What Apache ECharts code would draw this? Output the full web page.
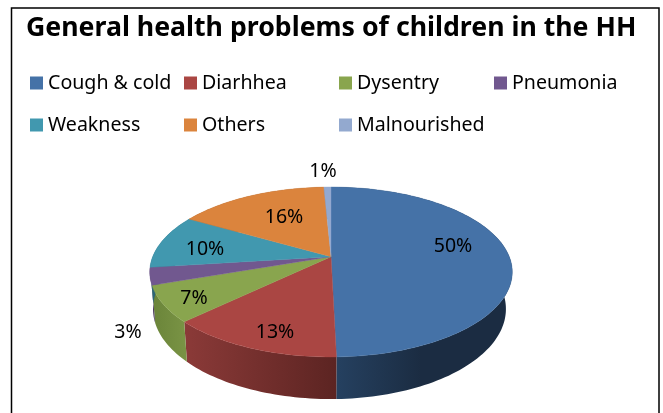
<!DOCTYPE html>
<html><head><meta charset="utf-8">
<style>html,body{margin:0;padding:0;background:#fff}#c{width:663px;height:413px}</style>
<script src="https://cdn.jsdelivr.net/npm/echarts@6/dist/echarts.min.js"></script>
</head><body><div id="c"></div>
<script>
const titleText = 'General health problems of children in the HH';
const categories = ['Cough & cold','Diarhhea','Dysentry','Pneumonia','Weakness','Others','Malnourished'];
const values = [49.6,13.2,6.9,3.3,10.3,15.95,0.75];
const colors = ['#4572A7','#AA4643','#89A54E','#71588F','#4198AF','#DB843D','#93A9CF'];
const wallStops = [['#264262','#1b2c42'],['#8b3a38','#5c2422'],['#6a8439','#7a9445'],['#4c3b60','#4c3b60'],['#2c6676','#2c6676'],['#94592a','#94592a'],['#63728c','#63728c']];
const legendPos = [[30,73],[184,73],[339,73],[494,73],[30,115],[184,115],[339,115]];
const labelPos = [[453,246],[275,332],[194,298],[128,332],[205,249],[284,217],[323,171]];
const FONT = 'Noto Sans';

const cum = []; values.reduce((s,v,i)=>(cum[i]=s,s+v),0);
const total = values.reduce((a,b)=>a+b,0);
const P = {cx:331,y0:256.7,a:178.3,b:82.2,k:0.18,yc:272};
function rim(th){const u=Math.sin(th),v=Math.cos(th),d=1+P.k*v;return [P.cx+P.a*u/d,P.y0-P.b*v/d];}
function floor(p){const sx=p[0]<P.cx?0.982:0.965;return [P.cx+(p[0]-P.cx)*sx,p[1]+37+(p[1]-P.yc)*0.06];}
function arc(start,val){const a0=start/total*2*Math.PI,a1=(start+val)/total*2*Math.PI,n=Math.max(4,Math.ceil((a1-a0)*40)),r=[];
  for(let i=0;i<=n;i++)r.push(rim(a0+(a1-a0)*i/n));return r;}
function renderWall(params,api){
  const i=params.seriesIndex, pts=arc(api.value(1),api.value(0));
  const poly=pts.concat(pts.map(floor).reverse());
  const xs=poly.map(p=>p[0]);
  return {type:'polygon',z2:1,shape:{points:poly},style:{fill:{type:'linear',global:true,x:Math.min(...xs),y:0,x2:i===0?Math.min(...xs)+90:Math.max(...xs),y2:0,colorStops:[{offset:0,color:wallStops[i][0]},{offset:1,color:wallStops[i][1]}]},stroke:null}};
}
function renderTop(params,api){
  const i=params.seriesIndex-categories.length, v=api.value(0), pts=arc(api.value(1),v);
  return {type:'group',children:[
    {type:'polygon',z2:2,shape:{points:[[P.cx,P.y0]].concat(pts)},style:{fill:colors[i],stroke:colors[i],lineWidth:0.4}},
    {type:'text',z2:100,style:{text:Math.round(v)+'%',x:labelPos[i][0],y:labelPos[i][1],align:'center',verticalAlign:'middle',fontFamily:FONT,fontSize:19.5,fill:'#000'}}
  ]};
}
const mk=(i,fn,z)=>({type:'custom',name:categories[i],coordinateSystem:'none',z:z,silent:true,animation:false,itemStyle:{color:colors[i]},renderItem:fn,data:[[values[i],cum[i]]]});
const series=[...categories.map((c,i)=>mk(i,renderWall,1)),...categories.map((c,i)=>mk(i,renderTop,2))];
const chart=echarts.init(document.getElementById('c'),null,{renderer:'canvas'});
chart.setOption({
  animation:false,backgroundColor:'#fff',
  title:{text:titleText,left:26,top:15,padding:0,textStyle:{fontFamily:FONT,fontWeight:'bold',fontSize:26.7,color:'#000'}},
  legend:categories.map((c,i)=>({data:[c],left:legendPos[i][0],top:legendPos[i][1],padding:0,icon:'rect',itemWidth:13,itemHeight:13,itemGap:0,selectedMode:false,textStyle:{fontFamily:FONT,fontSize:19.6,color:'#000',padding:[0,0,0,0]}})),
  graphic:[{type:'polyline',z:10,silent:true,shape:{points:[[11.5,414],[11.5,8],[659,8],[659,414]]},style:{stroke:'#000',lineWidth:1.5,fill:null}}],
  series
});
</script></body></html>
